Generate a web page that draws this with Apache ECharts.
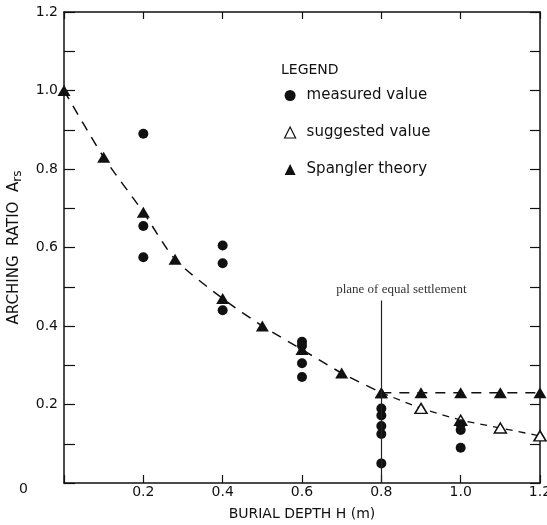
<!DOCTYPE html>
<html>
<head>
<meta charset="utf-8">
<script src="https://cdn.jsdelivr.net/npm/echarts@6/dist/echarts.min.js"></script>
<style>
html,body{margin:0;padding:0;background:#fff;}
#chart{width:547px;height:525px;}
</style>
</head>
<body>
<div id="chart"></div>
<script>
// ---- data ----
const measuredX = [0.2, 0.2, 0.2, 0.4, 0.4, 0.4, 0.6, 0.6, 0.6, 0.6, 0.8, 0.8, 0.8, 0.8, 0.8, 1.0, 1.0, 1.0];
const measuredY = [0.89, 0.655, 0.575, 0.605, 0.56, 0.44, 0.36, 0.35, 0.305, 0.27, 0.19, 0.172, 0.145, 0.125, 0.05, 0.15, 0.135, 0.09];

const spanglerX = [0, 0.1, 0.2, 0.28, 0.4, 0.5, 0.6, 0.7, 0.8];
const spanglerY = [1.0, 0.83, 0.69, 0.57, 0.47, 0.40, 0.34, 0.28, 0.23];

const spanglerFlatX = [0.8, 0.9, 1.0, 1.1, 1.2];
const spanglerFlatY = [0.23, 0.23, 0.23, 0.23, 0.23];

const suggestedX = [0.8, 0.9, 1.0, 1.1, 1.2];
const suggestedY = [0.23, 0.19, 0.16, 0.14, 0.12];

const xTickLabels = ['', '0.2', '0.4', '0.6', '0.8', '1.0', '1.2'];
const yTickLabels = ['0', '0.2', '0.4', '0.6', '0.8', '1.0', '1.2'];

const planeX = 0.8;
const planeTop = 0.465;
const planeText = 'plane of equal settlement';

const seriesNames = ['measured value', 'suggested value', 'Spangler theory'];

// ---- build chart ----
const pairs = (xs, ys) => xs.map((x, i) => [x, ys[i]]);
const FONT = 'DejaVu Sans';
const INK = '#111';

const chart = echarts.init(document.getElementById('chart'), null, {renderer: 'canvas'});

const suggestedData = pairs(suggestedX, suggestedY).map((p, i) =>
  i === 0 ? {value: p, symbol: 'none'} : {value: p});

const option = {
  backgroundColor: '#fff',
  animation: false,
  title: {
    text: 'LEGEND',
    left: 276, top: 58,
    textStyle: {fontFamily: FONT, fontSize: 14, fontWeight: 'normal', color: INK}
  },
  legend: {
    orient: 'vertical',
    left: 279, top: 83,
    itemWidth: 11, itemHeight: 11,
    itemGap: 22,
    textStyle: {fontFamily: FONT, fontSize: 15, color: INK, padding: [0, 0, 0, 6]},
    data: [
      {name: seriesNames[0], icon: 'circle', itemStyle: {color: INK, borderWidth: 0, opacity: 1}},
      {name: seriesNames[1], icon: 'triangle', itemStyle: {color: '#fff', borderColor: INK, borderWidth: 1.2}},
      {name: seriesNames[2], icon: 'triangle', itemStyle: {color: INK, borderWidth: 0}}
    ]
  },
  grid: {left: 64, right: 7, top: 12, bottom: 42, containLabel: false, outerBoundsMode: 'none'},
  xAxis: [
    {
      type: 'value', min: 0, max: 1.2, interval: 0.2, position: 'bottom',
      name: 'BURIAL DEPTH H (m)', nameLocation: 'middle', nameGap: 24, nameMoveOverlap: false,
      nameTextStyle: {fontFamily: FONT, fontSize: 14, color: INK},
      axisLine: {show: true, onZero: false, lineStyle: {color: INK, width: 1.5}},
      axisTick: {show: true, inside: true, length: 8, lineStyle: {color: INK, width: 1.2}},
      axisLabel: {
        margin: 2, fontFamily: FONT, fontSize: 14, color: INK,
        formatter: v => xTickLabels[Math.round(v / 0.2)]
      },
      splitLine: {show: false}
    },
    {
      type: 'value', min: 0, max: 1.2, interval: 0.2, position: 'top',
      axisLine: {show: true, onZero: false, lineStyle: {color: INK, width: 1.5}},
      axisTick: {show: true, inside: true, length: 7, lineStyle: {color: INK, width: 1.2}},
      axisLabel: {show: false},
      splitLine: {show: false}
    }
  ],
  yAxis: [
    {
      type: 'value', min: 0, max: 1.2, interval: 0.1, position: 'left',
      name: 'ARCHING  RATIO  A{s|rs}', nameLocation: 'middle', nameGap: 40, nameMoveOverlap: false,
      nameTextStyle: {
        fontFamily: FONT, fontSize: 15, color: INK,
        rich: {s: {fontFamily: FONT, fontSize: 12, color: INK, padding: [7, 0, 0, 0]}}
      },
      axisLine: {show: true, onZero: false, lineStyle: {color: INK, width: 1.5}},
      axisTick: {show: true, inside: true, length: 11, lineStyle: {color: INK, width: 1.2}},
      axisLabel: {
        margin: 6, fontFamily: FONT, fontSize: 14, color: INK,
        formatter: v => {
          const k = Math.round(v * 10);
          if (k % 2 !== 0) return '';
          if (k === 0) return '{z|' + yTickLabels[0] + '}';
          return yTickLabels[k / 2];
        },
        rich: {z: {fontFamily: FONT, fontSize: 14, color: INK, padding: [12, 30, 0, 0]}}
      },
      splitLine: {show: false}
    },
    {
      type: 'value', min: 0, max: 1.2, interval: 0.1, position: 'right',
      axisLine: {show: true, onZero: false, lineStyle: {color: INK, width: 1.5}},
      axisTick: {show: true, inside: true, length: 10, lineStyle: {color: INK, width: 1.2}},
      axisLabel: {show: false},
      splitLine: {show: false}
    }
  ],
  series: [
    {
      name: seriesNames[2], type: 'line', xAxisIndex: 0, yAxisIndex: 0,
      data: pairs(spanglerX, spanglerY),
      smooth: 0.25,
      symbol: 'triangle', symbolSize: [13, 11], showAllSymbol: true,
      itemStyle: {color: INK},
      lineStyle: {color: INK, width: 1.5, type: [10, 8]},
      z: 3
    },
    {
      name: seriesNames[2], type: 'line', xAxisIndex: 0, yAxisIndex: 0,
      data: pairs(spanglerFlatX, spanglerFlatY),
      symbol: 'triangle', symbolSize: [13, 11], showAllSymbol: true,
      itemStyle: {color: INK},
      lineStyle: {color: INK, width: 1.5, type: [10, 8]},
      z: 3
    },
    {
      name: seriesNames[1], type: 'line', xAxisIndex: 0, yAxisIndex: 0,
      data: suggestedData,
      symbol: 'triangle', symbolSize: [12, 10], showAllSymbol: true,
      itemStyle: {color: '#fff', borderColor: INK, borderWidth: 1.5},
      lineStyle: {color: INK, width: 1.3, type: [7, 6]},
      z: 2
    },
    {
      name: seriesNames[0], type: 'scatter', xAxisIndex: 0, yAxisIndex: 0,
      data: pairs(measuredX, measuredY),
      symbol: 'circle', symbolSize: 10,
      itemStyle: {color: INK, opacity: 1},
      z: 4,
      markLine: {
        silent: true, symbol: ['none', 'none'],
        lineStyle: {color: '#222', width: 1.2, type: 'solid'},
        label: {
          show: true, position: 'end', formatter: planeText,
          fontFamily: 'Liberation Serif', fontSize: 13, color: '#333',
          padding: [0, 0, 0, 40], distance: 4
        },
        data: [[{coord: [planeX, 0]}, {coord: [planeX, planeTop]}]]
      }
    }
  ]
};

chart.setOption(option);
</script>
</body>
</html>
